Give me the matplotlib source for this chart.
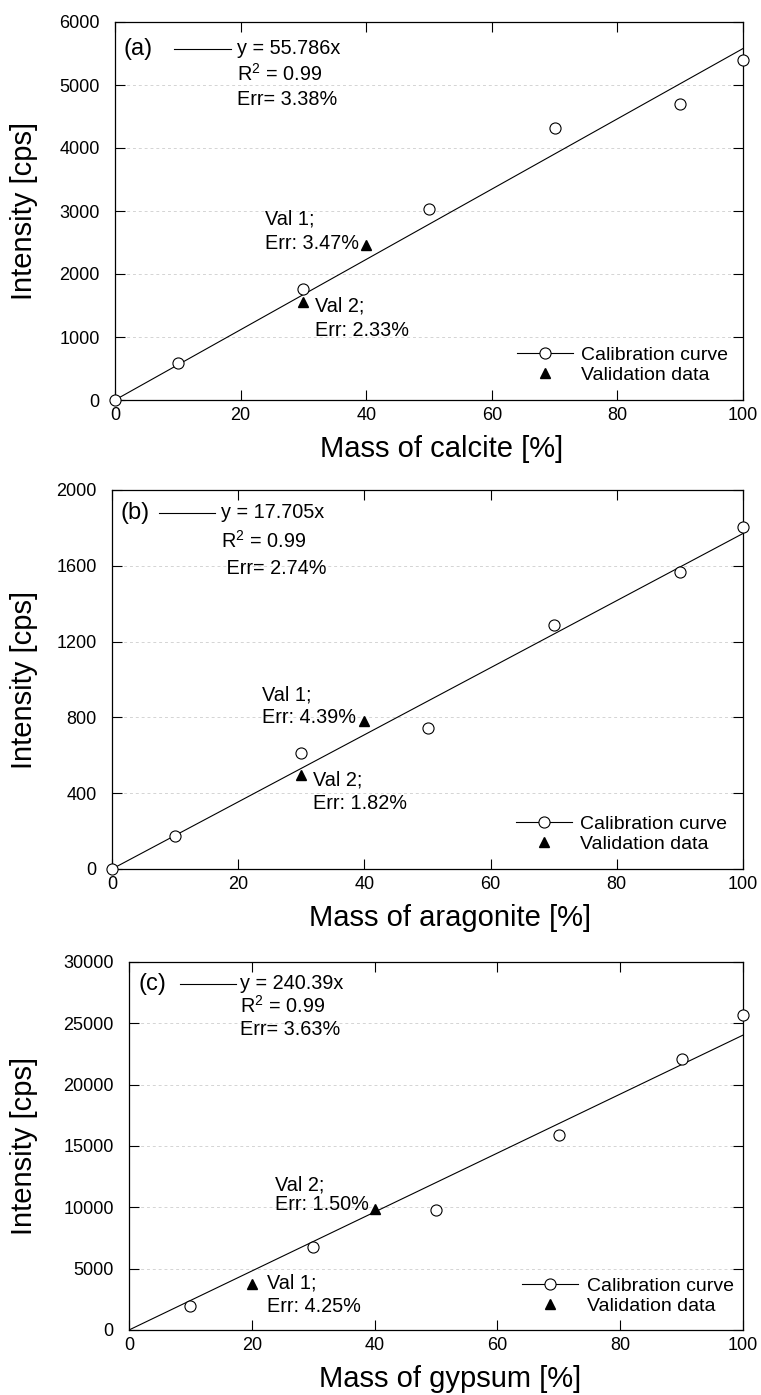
import matplotlib
matplotlib.use("Agg")
import matplotlib.pyplot as plt
from matplotlib.lines import Line2D
import numpy as np

plt.rcParams['font.family'] = ['Liberation Sans', 'DejaVu Sans']
plt.rcParams['mathtext.fontset'] = 'custom'
plt.rcParams['mathtext.rm'] = 'Liberation Sans'

# ---------------- data ----------------
# Panel (a) calcite
calcite_x = [0, 10, 30, 50, 70, 90, 100]
calcite_y = [0, 585, 1760, 3035, 4325, 4700, 5390]
calcite_val_x = [40, 30]
calcite_val_y = [2455, 1550]
calcite_slope = 55.786

# Panel (b) aragonite
aragonite_x = [0, 10, 30, 50, 70, 90, 100]
aragonite_y = [0, 172, 612, 745, 1288, 1565, 1805]
aragonite_val_x = [40, 30]
aragonite_val_y = [782, 497]
aragonite_slope = 17.705

# Panel (c) gypsum
gypsum_x = [10, 30, 50, 70, 90, 100]
gypsum_y = [1950, 6730, 9770, 15880, 22100, 25650]
gypsum_val_x = [20, 40]
gypsum_val_y = [3720, 9830]
gypsum_slope = 240.39

panels = [
    dict(tag='(a)', x=calcite_x, y=calcite_y, vx=calcite_val_x, vy=calcite_val_y,
         slope=calcite_slope, ymax=6000, ystep=1000, xlabel='Mass of calcite [%]',
         eq=['y = 55.786x', r'R$^{2}$ = 0.99', 'Err= 3.38%'],
         val=[('Val 1;', 'Err: 3.47%'), ('Val 2;', 'Err: 2.33%')]),
    dict(tag='(b)', x=aragonite_x, y=aragonite_y, vx=aragonite_val_x, vy=aragonite_val_y,
         slope=aragonite_slope, ymax=2000, ystep=400, xlabel='Mass of aragonite [%]',
         eq=['y = 17.705x', r'R$^{2}$ = 0.99', ' Err= 2.74%'],
         val=[('Val 1;', 'Err: 4.39%'), ('Val 2;', 'Err: 1.82%')]),
    dict(tag='(c)', x=gypsum_x, y=gypsum_y, vx=gypsum_val_x, vy=gypsum_val_y,
         slope=gypsum_slope, ymax=30000, ystep=5000, xlabel='Mass of gypsum [%]',
         eq=['y = 240.39x', r'R$^{2}$ = 0.99', 'Err= 3.63%'],
         val=[('Val 1;', 'Err: 4.25%'), ('Val 2;', 'Err: 1.50%')]),
]

# layout (pixels)
W, H = 761, 1395
boxes = [(115, 22, 743, 400), (112, 490, 743, 869), (129, 962, 743, 1330)]
xlabel_cx = [442, 450, 450]
# annotation positions (axes fractions)
eq_pos = [
    dict(tag=0.013, l0=0.094, l1=0.185, tx=0.194, ys=[0.929, 0.863, 0.795]),
    dict(tag=0.013, l0=0.075, l1=0.164, tx=0.172, ys=[0.940, 0.867, 0.792]),
    dict(tag=0.016, l0=0.083, l1=0.174, tx=0.180, ys=[0.941, 0.880, 0.817]),
]
val_pos = [
    [(0.239, 0.479, 0.413), (0.318, 0.249, 0.185)],
    [(0.237, 0.459, 0.400), (0.318, 0.234, 0.172)],
    [(0.224, 0.127, 0.063), (0.237, 0.394, 0.341)],
]

fig = plt.figure(figsize=(W / 100, H / 100), dpi=100)

for i, p in enumerate(panels):
    l, t, r, b = boxes[i]
    ax = fig.add_axes([l / W, 1 - b / H, (r - l) / W, (b - t) / H])
    ax.set_xlim(0, 100)
    ax.set_ylim(0, p['ymax'])
    ax.set_xticks(np.arange(0, 101, 20))
    ax.set_yticks(np.arange(0, p['ymax'] + 1, p['ystep']))
    ax.set_axisbelow(True)
    ax.yaxis.grid(True, color='#d4d4d4', linestyle=(0, (3, 3)), linewidth=0.7)
    ax.tick_params(direction='in', length=7, width=0.8, top=True, right=True,
                   labelsize=13, colors='black')
    ax.tick_params(axis='x', pad=5)
    ax.tick_params(axis='y', pad=11)
    for s in ax.spines.values():
        s.set_linewidth(0.9)

    xs = np.array([0, 100])
    ax.plot(xs, p['slope'] * xs, color='black', linewidth=0.8, zorder=2)
    ax.plot(p['x'], p['y'], linestyle='none', marker='o', markersize=8,
            markerfacecolor='white', markeredgecolor='black', markeredgewidth=0.8,
            zorder=3, clip_on=False)
    ax.plot(p['vx'], p['vy'], linestyle='none', marker='^', markersize=7,
            color='black', zorder=4, clip_on=False)

    ep = eq_pos[i]
    ax.text(ep['tag'], ep['ys'][0], p['tag'], transform=ax.transAxes,
            fontsize=17, ha='left', va='center')
    ax.add_line(Line2D([ep['l0'], ep['l1']], [ep['ys'][0], ep['ys'][0]],
                       transform=ax.transAxes, color='black', linewidth=0.8))
    for k, s in enumerate(p['eq']):
        ax.text(ep['tx'], ep['ys'][k], s, transform=ax.transAxes,
                fontsize=14.3, ha='left', va='center')

    for (lab1, lab2), (vx, y1, y2) in zip(p['val'], val_pos[i]):
        ax.text(vx, y1, lab1, transform=ax.transAxes, fontsize=14.3, ha='left', va='center')
        ax.text(vx, y2, lab2, transform=ax.transAxes, fontsize=14.3, ha='left', va='center')

    handles = [Line2D([], [], color='black', linewidth=0.8, marker='o', markersize=8,
                      markerfacecolor='white', markeredgecolor='black', markeredgewidth=0.8),
               Line2D([], [], color='black', linestyle='none', marker='^', markersize=7)]
    ax.legend(handles, ['Calibration curve', 'Validation data'], loc='center left',
              bbox_to_anchor=(0.64, 0.093), frameon=False, fontsize=14,
              borderpad=0, borderaxespad=0, handlelength=2.9, handletextpad=0.42,
              labelspacing=0.12)

    ax.set_xlabel(p['xlabel'], fontsize=21, va='center')
    ax.set_ylabel('Intensity [cps]', fontsize=21, va='center')
    axh = b - t
    axw = r - l
    ax.xaxis.set_label_coords((xlabel_cx[i] - l) / axw, -49 / axh)
    ax.yaxis.set_label_coords((24 - l) / axw, 0.5)

fig.savefig('out.png', dpi=100)
